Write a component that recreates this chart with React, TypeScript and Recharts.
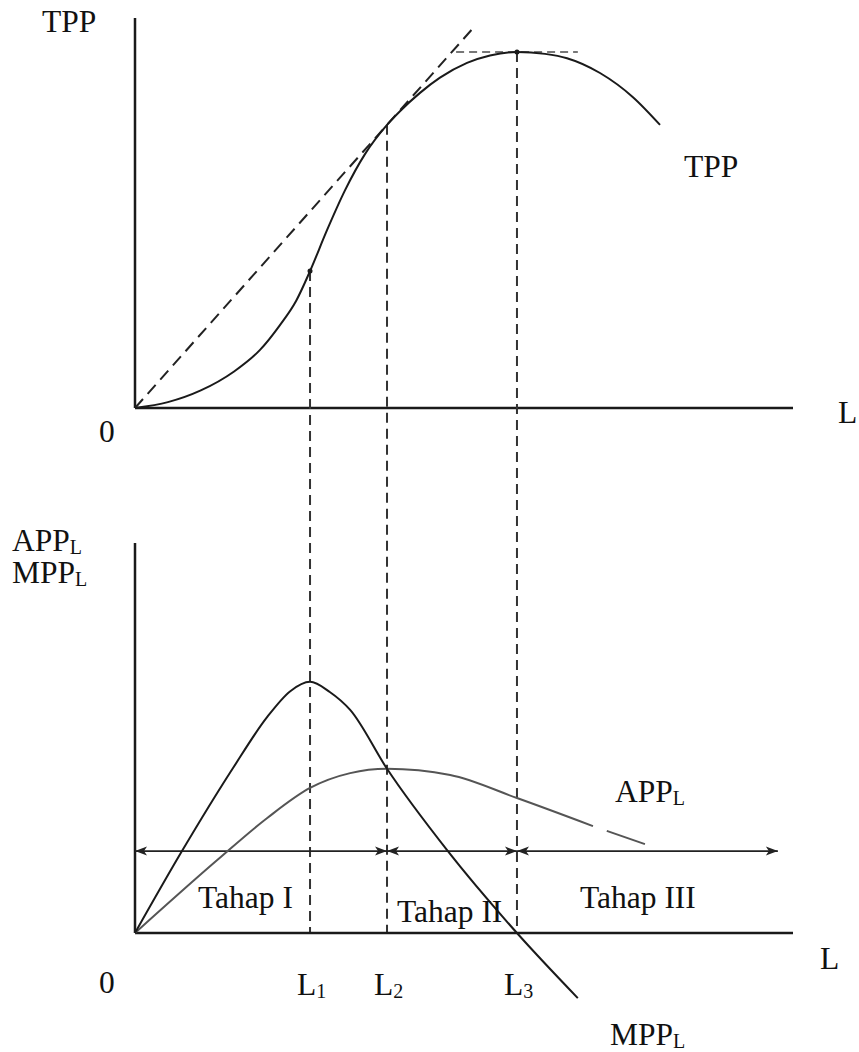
import { ComposedChart, Line, XAxis, YAxis, ReferenceLine, ReferenceDot } from "recharts";

const FONT = '"Liberation Serif", "Times New Roman", serif';
const INK = "#1a1a1a";

// stage boundaries on the L axis
const L1 = 26.6;
const L2 = 38.3;
const L3 = 58.05;
const lTicks = [L1, L2, L3];
const lTickNames = ["1", "2", "3"];

// total physical product
const tppL = [0, 5, 10, 15, 19, 22, 24.5, 26.6, 29.18, 31.91, 34.95, 38.3, 40.27, 43.31, 46.35, 50.46, 53.95, 58.05, 62.31, 65.65, 70.67, 75.68, 79.79];
const tppV = [0, 1.5, 4.5, 9.3, 14.9, 21.2, 27.5, 35.1, 45.6, 55.8, 65.1, 72.6, 76.1, 80.8, 84.7, 88.5, 90.4, 91.3, 90.8, 89.7, 85.9, 79.7, 72.6];

// marginal physical product
const mppL = [0, 7.14, 14.9, 20.1, 23.6, 26.6, 29.6, 32.7, 38.3, 47.4, 58.05, 67.3];
const mppV = [0, 21.0, 42.3, 55.4, 62.0, 64.4, 61.8, 57.2, 42.1, 21.3, 0, -16.7];

// average physical product (the original has a small break near L = 70)
const appL = [0, 12.5, 20.1, 26.6, 32.7, 38.3, 47.9, 58.05, 69.6, 70.6, 71.7, 77.5];
const appV: (number | null)[] = [0, 18.7, 29.5, 37.2, 41.0, 42.1, 40.5, 34.6, 27.4, null, 26.2, 22.8];

const tangentEnd = 51.4;
const peakGuide = [48.8, 67.3];
const stageLevel = 21;
const stageEnd = 97.7;

const tppData = tppL.map((l, i) => ({ l, v: tppV[i] }));
const mppData = mppL.map((l, i) => ({ l, v: mppV[i] }));
const appData = appL.map((l, i) => ({ l, v: appV[i] }));
const tppAt = (l: number) => tppV[tppL.indexOf(l)];
const tppMax = Math.max(...tppV);
const tangentSlope = tppAt(L2) / L2;

// layout
const W = 859;
const H = 1052;
const LEFT = 135;
const RIGHT = W - 793;
const TOP_Y0 = 18;
const TOP_AXIS = 408;
const BOT_Y0 = 543;
const BOT_AXIS = 933;
const pxPerUnit = (TOP_AXIS - TOP_Y0) / 100;
const BOT_MIN = -17;
const botPlotH = (100 - BOT_MIN) * pxPerUnit;
const XAXIS_H = 30;
const dropTo = -(BOT_AXIS - TOP_AXIS) / pxPerUnit;
const FS = 31.5;

const dash = { stroke: "#333", strokeWidth: 2, strokeDasharray: "10 6" };
const axisStyle = { stroke: INK, strokeWidth: 2.5 };

function ArrowSeg(p: any) {
  const { x1, y1, x2, y2 } = p;
  const len = 12;
  const hw = 4.5;
  return (
    <g>
      <line x1={x1} y1={y1} x2={x2} y2={y2} stroke="#222" strokeWidth={1.6} />
      <path d={`M${x1},${y1} L${x1 + len},${y1 - hw} L${x1 + len - 3},${y1} L${x1 + len},${y1 + hw} Z`} fill="#222" />
      <path d={`M${x2},${y2} L${x2 - len},${y2 - hw} L${x2 - len + 3},${y2} L${x2 - len},${y2 + hw} Z`} fill="#222" />
    </g>
  );
}

function LTick(props: any) {
  const { x, y, payload } = props;
  const name = lTickNames[lTicks.indexOf(payload.value)];
  return (
    <text x={x - 13} y={y} dy={-12} fontFamily={FONT} fontSize={FS} fill="#111">
      L<tspan fontSize={20} dy={3}>{name}</tspan>
    </text>
  );
}

function Txt({ x, base, children }: { x: number; base: number; children: any }) {
  return (
    <div
      style={{
        position: "absolute",
        left: x,
        top: base - 26,
        fontFamily: FONT,
        fontSize: FS,
        lineHeight: `${FS}px`,
        whiteSpace: "nowrap",
        color: "#111",
      }}
    >
      {children}
    </div>
  );
}

const Sub = ({ children }: { children: any }) => (
  <span style={{ fontSize: 20, position: "relative", top: 3 }}>{children}</span>
);

export default function App() {
  return (
    <div style={{ position: "absolute", left: 0, top: 0, width: W, height: H, background: "#fff" }}>
      <div style={{ position: "absolute", left: 0, top: 0 }}>
        <ComposedChart width={W} height={H} margin={{ top: TOP_Y0, left: LEFT, right: RIGHT, bottom: H - TOP_AXIS }}>
          <XAxis type="number" dataKey="l" domain={[0, 100]} hide />
          <YAxis type="number" domain={[0, 100]} hide />
          <ReferenceLine segment={[{ x: 0, y: 0 }, { x: 100, y: 0 }]} {...axisStyle} />
          <ReferenceLine segment={[{ x: 0, y: 0 }, { x: 0, y: 100 }]} {...axisStyle} />
          <ReferenceLine
            segment={[{ x: 0, y: 0 }, { x: tangentEnd, y: tangentEnd * tangentSlope }]}
            stroke="#222"
            strokeWidth={2}
            strokeDasharray="12 7"
            ifOverflow="visible"
          />
          <ReferenceLine
            segment={[{ x: peakGuide[0], y: tppMax }, { x: peakGuide[1], y: tppMax }]}
            stroke="#777"
            strokeWidth={2}
            strokeDasharray="8 5"
            ifOverflow="visible"
          />
          {lTicks.map((l) => (
            <ReferenceLine
              key={l}
              segment={[{ x: l, y: tppAt(l) }, { x: l, y: dropTo }]}
              {...dash}
              ifOverflow="visible"
            />
          ))}
          <Line
            data={tppData}
            dataKey="v"
            type="monotone"
            stroke={INK}
            strokeWidth={2}
            dot={false}
            isAnimationActive={false}
          />
          <ReferenceDot x={L1} y={tppAt(L1)} r={2.5} fill={INK} stroke="none" />
          <ReferenceDot x={L3} y={tppAt(L3)} r={2.5} fill={INK} stroke="none" />
        </ComposedChart>
      </div>

      <div style={{ position: "absolute", left: 0, top: 0 }}>
        <ComposedChart
          width={W}
          height={H}
          margin={{ top: BOT_Y0, left: LEFT, right: RIGHT, bottom: H - BOT_Y0 - botPlotH - XAXIS_H }}
        >
          <XAxis
            type="number"
            dataKey="l"
            domain={[0, 100]}
            height={XAXIS_H}
            ticks={lTicks}
            interval={0}
            tick={LTick}
            tickLine={false}
            axisLine={false}
          />
          <YAxis type="number" domain={[BOT_MIN, 100]} hide />
          <ReferenceLine segment={[{ x: 0, y: 0 }, { x: 100, y: 0 }]} {...axisStyle} />
          <ReferenceLine segment={[{ x: 0, y: 0 }, { x: 0, y: 100 }]} {...axisStyle} />
          <ReferenceLine segment={[{ x: 0, y: stageLevel }, { x: L2, y: stageLevel }]} shape={ArrowSeg} />
          <ReferenceLine segment={[{ x: L2, y: stageLevel }, { x: L3, y: stageLevel }]} shape={ArrowSeg} />
          <ReferenceLine segment={[{ x: L3, y: stageLevel }, { x: stageEnd, y: stageLevel }]} shape={ArrowSeg} />
          <Line
            data={appData}
            dataKey="v"
            type="monotone"
            stroke="#555"
            strokeWidth={2}
            dot={false}
            isAnimationActive={false}
          />
          <Line
            data={mppData}
            dataKey="v"
            type="monotone"
            stroke={INK}
            strokeWidth={2}
            dot={false}
            isAnimationActive={false}
          />
        </ComposedChart>
      </div>

      <Txt x={42} base={32}>TPP</Txt>
      <Txt x={99} base={442}>0</Txt>
      <Txt x={838} base={423}>L</Txt>
      <Txt x={684} base={177}>TPP</Txt>
      <Txt x={12} base={551}>APP<Sub>L</Sub></Txt>
      <Txt x={12} base={583}>MPP<Sub>L</Sub></Txt>
      <Txt x={615} base={802}>APP<Sub>L</Sub></Txt>
      <Txt x={198} base={908}>Tahap I</Txt>
      <Txt x={397} base={922}>Tahap II</Txt>
      <Txt x={580} base={908}>Tahap III</Txt>
      <Txt x={99} base={993}>0</Txt>
      <Txt x={820} base={969}>L</Txt>
      <Txt x={610} base={1045}>MPP<Sub>L</Sub></Txt>
    </div>
  );
}
